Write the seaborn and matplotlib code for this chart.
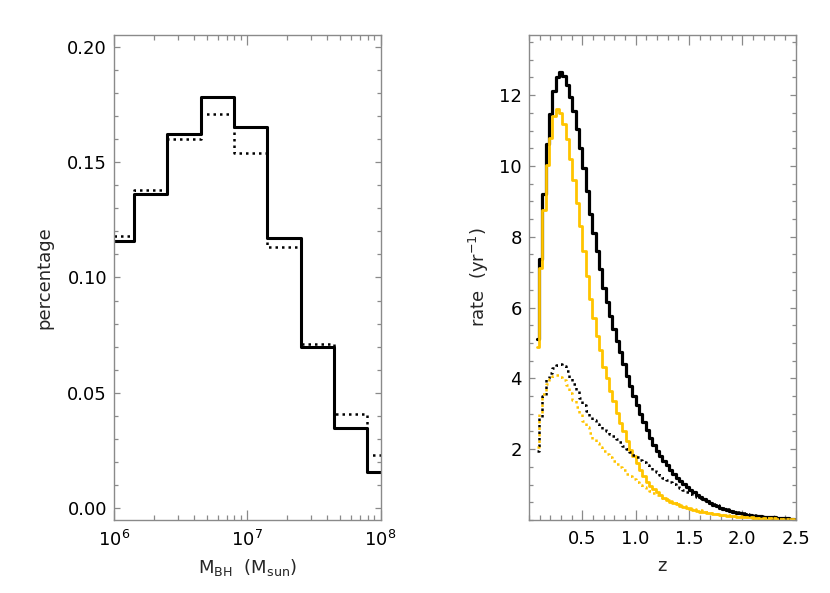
import numpy as np
import matplotlib
matplotlib.use("Agg")
import matplotlib.pyplot as plt
import seaborn as sns
from matplotlib.ticker import MultipleLocator, FixedLocator, LogLocator, NullFormatter

# ---- left panel: black hole mass distribution (log10 bin edges, 0.25 dex)
log_mbh_edges = [5.90, 6.15, 6.40, 6.65, 6.90, 7.15, 7.40, 7.65, 7.90, 8.15]
frac_solid = [0.116, 0.136, 0.162, 0.178, 0.165, 0.117, 0.070, 0.035, 0.016]
frac_dotted = [0.118, 0.138, 0.160, 0.171, 0.154, 0.113, 0.071, 0.041, 0.023]

# ---- right panel: event rate vs redshift (80 bins over 0-2.5, first two empty)
z_edges = np.linspace(0.0, 2.5, 81)
z_mid = 0.5 * (z_edges[2:-1] + z_edges[3:])

rate_black = [5.1, 7.37, 9.2, 10.61, 11.46, 12.11,
              12.5, 12.65, 12.55, 12.3, 11.95, 11.55, 11.05, 10.5, 9.95, 9.3,
              8.65, 8.1, 7.6, 7.1,
              6.55, 6.15, 5.75, 5.4, 5.05, 4.75, 4.42, 4.08, 3.78, 3.5,
              3.25, 3.0, 2.78, 2.55, 2.32, 2.13, 1.96, 1.82, 1.68, 1.54,
              1.42, 1.30, 1.2, 1.11, 1.02, 0.93, 0.86, 0.79, 0.72, 0.65,
              0.59, 0.53, 0.48, 0.43, 0.39, 0.35, 0.32, 0.29, 0.26, 0.23,
              0.21, 0.19, 0.17, 0.15, 0.135, 0.12, 0.11, 0.10, 0.09, 0.085,
              0.08, 0.072, 0.065, 0.058, 0.052, 0.046, 0.042, 0.038]
rate_yellow = [4.9, 7.13, 8.77, 10.04, 10.8,
               11.4, 11.6, 11.5, 11.2, 10.75, 10.2, 9.6, 8.95, 8.3, 7.6,
               6.9, 6.25, 5.7, 5.2, 4.79,
               4.32, 4.0, 3.65, 3.35, 3.02, 2.75, 2.5, 2.22, 1.98, 1.8,
               1.6, 1.42, 1.24, 1.08, 0.97, 0.88, 0.79, 0.70, 0.63, 0.57,
               0.52, 0.48, 0.44, 0.40, 0.37, 0.34, 0.31, 0.28, 0.26, 0.24,
               0.22, 0.20, 0.19, 0.17, 0.16, 0.145, 0.135, 0.125, 0.115, 0.105,
               0.097, 0.09, 0.083, 0.077, 0.071, 0.066, 0.061, 0.057, 0.053, 0.05,
               0.047, 0.044, 0.041, 0.038, 0.036, 0.034, 0.032, 0.03]
rate_black_dot = [1.95, 2.9, 3.5, 4.0, 4.15, 4.3, 4.38, 4.42, 4.35, 4.2,
                  4.0, 3.85, 3.68, 3.45, 3.25, 3.08, 2.93, 2.82, 2.72, 2.65,
                  2.58, 2.5, 2.43, 2.36, 2.28, 2.2, 2.1, 2.0,
                  1.91, 1.84, 1.77, 1.70, 1.63, 1.56, 1.49, 1.42, 1.35, 1.28,
                  1.2, 1.13, 1.07, 1.01, 0.95, 0.89, 0.84, 0.79, 0.74, 0.71,
                  0.66, 0.61, 0.56, 0.52, 0.48, 0.44, 0.41, 0.38, 0.35, 0.32,
                  0.29, 0.26, 0.24, 0.21, 0.19, 0.17, 0.15, 0.135, 0.12, 0.11,
                  0.095, 0.085, 0.075, 0.067, 0.06, 0.054, 0.048, 0.043, 0.039, 0.035]
rate_yellow_dot = [2.05, 3.0, 3.55, 3.85, 3.98, 4.08, 4.1, 4.05, 3.95, 3.8,
                   3.6, 3.4, 3.2, 3.0, 2.8, 2.62, 2.45, 2.3, 2.17, 2.05,
                   1.96, 1.87, 1.78, 1.68, 1.59, 1.5, 1.4, 1.31, 1.23, 1.15,
                   1.07, 1.0, 0.93, 0.87, 0.81, 0.76, 0.71, 0.66, 0.62, 0.58,
                   0.54, 0.5, 0.47, 0.43, 0.4, 0.37, 0.34, 0.32, 0.29, 0.27,
                   0.25, 0.23, 0.21, 0.195, 0.18, 0.165, 0.15, 0.14, 0.13, 0.12,
                   0.11, 0.1, 0.095, 0.088, 0.082, 0.076, 0.07, 0.065, 0.06, 0.055,
                   0.05, 0.046, 0.042, 0.039, 0.036, 0.033, 0.031, 0.029]

GOLD = "#FFC400"
AXIS_GREY = "#8a8a8a"
DOTS = (0, (1, 1.6))

sns.set_style("ticks")
plt.rcParams["font.family"] = ["DejaVu Sans"]
plt.rcParams["mathtext.default"] = "regular"
plt.rcParams["font.size"] = 13

fig = plt.figure(figsize=(8.3, 5.93), dpi=100)
ax1 = fig.add_axes([114 / 830, 1 - 520 / 593, 266.5 / 830, 485 / 593])
ax2 = fig.add_axes([529 / 830, 1 - 520 / 593, 266.5 / 830, 485 / 593])

# left: step histograms on log mass axis
mbh_x = [10 ** e for e in log_mbh_edges]
sns.lineplot(x=mbh_x, y=frac_solid + frac_solid[-1:], ax=ax1, drawstyle="steps-post",
             color="black", lw=2.2, sort=False)
sns.lineplot(x=mbh_x, y=frac_dotted + frac_dotted[-1:], ax=ax1, drawstyle="steps-post",
             color="black", lw=1.8, linestyle=DOTS, sort=False)
ax1.set_xscale("log")
ax1.set_xlim(1e6, 1e8)
ax1.set_ylim(-0.005, 0.205)
ax1.xaxis.set_major_locator(FixedLocator([1e6, 1e7, 1e8]))
ax1.xaxis.set_minor_locator(LogLocator(base=10, subs=np.arange(2, 10)))
ax1.xaxis.set_minor_formatter(NullFormatter())
ax1.yaxis.set_major_locator(MultipleLocator(0.05))
ax1.yaxis.set_minor_locator(MultipleLocator(0.01))
ax1.yaxis.set_major_formatter(plt.FormatStrFormatter("%.2f"))
ax1.set_xlabel(r"M$_{\mathrm{BH}}$  (M$_{\mathrm{sun}}$)", labelpad=5)
ax1.set_ylabel("percentage", labelpad=10)

# right: rate vs redshift
sns.lineplot(x=z_mid, y=rate_black, ax=ax2, drawstyle="steps-mid", color="black", lw=2.3)
sns.lineplot(x=z_mid, y=rate_yellow, ax=ax2, drawstyle="steps-mid", color=GOLD, lw=2.0)
sns.lineplot(x=z_mid, y=rate_black_dot, ax=ax2, drawstyle="steps-mid", color="black",
             lw=1.8, linestyle=DOTS)
sns.lineplot(x=z_mid, y=rate_yellow_dot, ax=ax2, drawstyle="steps-mid", color=GOLD,
             lw=1.8, linestyle=DOTS)
ax2.set_xlim(0, 2.5)
ax2.set_ylim(0, 13.7)
ax2.xaxis.set_major_locator(FixedLocator([0.5, 1.0, 1.5, 2.0, 2.5]))
ax2.xaxis.set_minor_locator(MultipleLocator(0.1))
ax2.xaxis.set_major_formatter(plt.FormatStrFormatter("%.1f"))
ax2.yaxis.set_major_locator(FixedLocator([2, 4, 6, 8, 10, 12]))
ax2.yaxis.set_minor_locator(MultipleLocator(0.5))
ax2.set_xlabel("z", labelpad=7)
ax2.set_ylabel("rate  (yr$^{-1}$)", labelpad=6)

for ax in (ax1, ax2):
    for sp in ax.spines.values():
        sp.set_visible(True)
        sp.set_color(AXIS_GREY)
        sp.set_linewidth(1.0)
    ax.tick_params(which="both", direction="in", top=True, right=True,
                   color=AXIS_GREY, width=0.9, labelcolor="black")
    ax.tick_params(axis="x", which="major", length=7, pad=7)
    ax.tick_params(axis="x", which="minor", length=3.5)
    ax.tick_params(axis="y", which="major", length=4, pad=5)
    ax.tick_params(axis="y", which="minor", length=3)

fig.savefig("out.png", dpi=100)
